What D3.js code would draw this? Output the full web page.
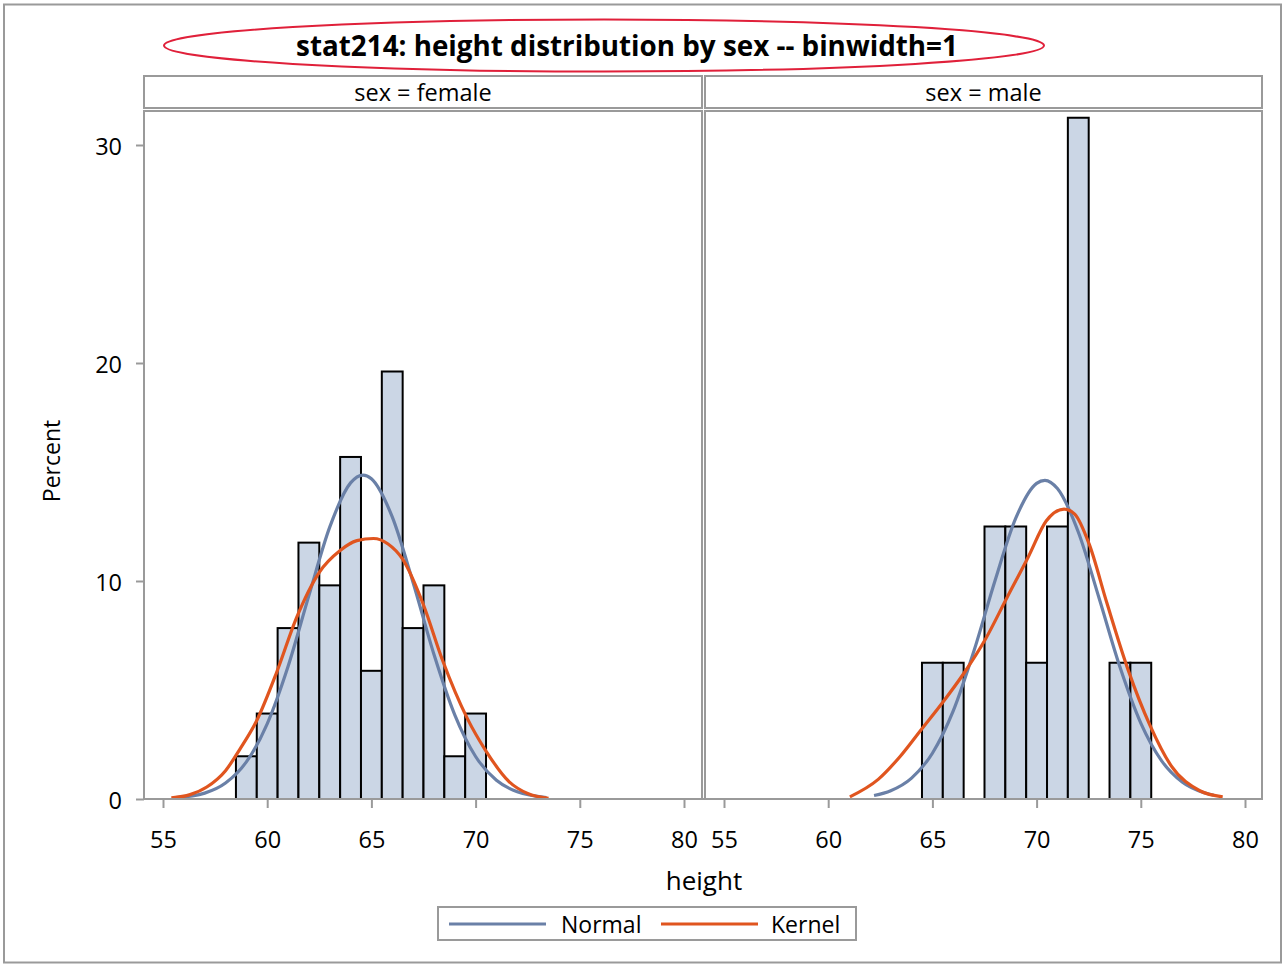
<!DOCTYPE html>
<html><head><meta charset="utf-8">
<script src="https://cdn.jsdelivr.net/npm/d3@7"></script>
<style>body{margin:0;background:#fff}svg{display:block}text{font-family:"Open Sans",sans-serif;fill:#000}</style>
</head><body>
<script>
// ---- data ----
const panels = ["sex = female", "sex = male"];
const femaleBins = [59,60,61,62,63,64,65,66,67,68,69,70];
const femalePct  = [1.96,3.92,7.84,11.76,9.80,15.69,5.88,19.61,7.84,9.80,1.96,3.92];
const maleBins   = [65,66,68,69,70,71,72,74,75];
const malePct    = [6.25,6.25,12.5,12.5,6.25,12.5,31.25,6.25,6.25];
// fitted curves (height, percent)
const femaleNormalX = [55.6,57,58,59,60,61,62,63,64,64.6,65,66,67,68,69,70,71,72,73.4];
const femaleNormalY = [0.06,0.27,0.73,1.70,3.45,6.08,9.33,12.47,14.5,14.86,14.69,12.94,9.93,6.64,3.86,1.95,0.86,0.33,0.07];
const femaleKernelX = [55.4,56.3,57.1,58.0,58.7,59.5,60.45,61.4,62.5,63.5,64.3,65.1,65.8,66.5,67.5,68.4,69.6,70.5,71.6,72.5,73.5];
const femaleKernelY = [0.05,0.2,0.55,1.3,2.3,3.6,5.8,8.3,10.4,11.4,11.85,11.95,11.7,11.0,8.9,6.4,3.7,2.2,0.8,0.25,0.03];
const maleNormalX = [62.2,63,64,65,66,67,68,69,70,70.4,71,72,73,74,75,76,77,78,78.5];
const maleNormalY = [0.16,0.38,0.96,2.10,4.04,6.81,10.0,12.88,14.48,14.62,14.24,12.25,9.21,6.05,3.48,1.75,0.77,0.30,0.17];
const maleKernelX = [61.04,62.4,63.44,64.47,65.5,66.52,67.55,68.57,69.6,70.46,71.32,71.83,72.52,73.37,74.4,75.43,76.46,77.83,78.93];
const maleKernelY = [0.1,0.9,1.94,3.19,4.44,5.78,7.34,9.22,11.1,12.75,13.3,13.07,11.7,9.0,5.9,3.4,1.52,0.38,0.1];
const xTicks = [55,60,65,70,75,80];
const yTicks = [0,10,20,30];
const legendItems = ["Normal","Kernel"];
const titleText = "stat214: height distribution by sex -- binwidth=1";

const W=1285,H=964;
const gray="#9a9a9a", barFill="#cbd6e5", blue="#6a80a7", orange="#e0551f";
const svg=d3.select("body").append("svg").attr("width",W).attr("height",H);

// outer border
svg.append("rect").attr("x",4).attr("y",4.5).attr("width",1277).attr("height",958)
  .attr("fill","none").attr("stroke",gray).attr("stroke-width",2);

// title + ellipse
svg.append("text").attr("x",627).attr("y",56).attr("text-anchor","middle")
  .attr("font-size",27.8).attr("font-weight","bold").text(titleText);
svg.append("ellipse").attr("cx",604).attr("cy",45.5).attr("rx",440).attr("ry",26)
  .attr("fill","none").attr("stroke","#e0203a").attr("stroke-width",2);

const y=d3.scaleLinear().domain([0,30]).range([799,145]);
const panelDefs=[
  {x0:144,x1:702,r:[163,684],bins:femaleBins,pct:femalePct,nx:femaleNormalX,ny:femaleNormalY,kx:femaleKernelX,ky:femaleKernelY},
  {x0:705,x1:1262,r:[724,1245],bins:maleBins,pct:malePct,nx:maleNormalX,ny:maleNormalY,kx:maleKernelX,ky:maleKernelY}
];
panelDefs.forEach((p,i)=>{
  const x=d3.scaleLinear().domain([55,80]).range(p.r);
  // header strip
  svg.append("rect").attr("x",p.x0).attr("y",76).attr("width",p.x1-p.x0).attr("height",32)
    .attr("fill","#fff").attr("stroke",gray).attr("stroke-width",2);
  svg.append("text").attr("x",(p.x0+p.x1)/2).attr("y",100.5).attr("text-anchor","middle")
    .attr("font-size",23.5).text(panels[i]);
  // bars
  const g=svg.append("g");
  g.selectAll("rect").data(p.bins).join("rect")
    .attr("x",d=>x(d-0.5)).attr("width",d=>x(d+0.5)-x(d-0.5))
    .attr("y",(d,j)=>y(p.pct[j])).attr("height",(d,j)=>y(0)-y(p.pct[j]))
    .attr("fill",barFill).attr("stroke","#000").attr("stroke-width",2);
  const line=d3.line().x(d=>x(d[0])).y(d=>y(d[1])).curve(d3.curveMonotoneX);
  svg.append("path").attr("d",line(d3.zip(p.nx,p.ny))).attr("fill","none").attr("stroke",blue).attr("stroke-width",3.2);
  svg.append("path").attr("d",line(d3.zip(p.kx,p.ky))).attr("fill","none").attr("stroke",orange).attr("stroke-width",3.2);
  // plot frame
  svg.append("rect").attr("x",p.x0).attr("y",111).attr("width",p.x1-p.x0).attr("height",799-111)
    .attr("fill","none").attr("stroke",gray).attr("stroke-width",2);
  // x axis
  const xa=svg.append("g").attr("transform","translate(0,799)")
    .call(d3.axisBottom(x).tickValues(xTicks).tickSize(9));
  xa.select(".domain").remove();
  xa.selectAll("line").attr("stroke",gray).attr("stroke-width",2);
  xa.selectAll("text").attr("y",49).attr("dy",null).attr("font-size",23.5).attr("font-family","Open Sans").attr("fill","#000");
});
// y axis
const ya=svg.append("g").attr("transform","translate(144,0)")
  .call(d3.axisLeft(y).tickValues(yTicks).tickSize(8).tickPadding(14));
ya.select(".domain").remove();
ya.selectAll("line").attr("stroke",gray).attr("stroke-width",2);
ya.selectAll("text").attr("dy","0.4em").attr("font-size",23.5).attr("font-family","Open Sans").attr("fill","#000");
svg.append("line").attr("x1",144).attr("x2",1262).attr("y1",799).attr("y2",799).attr("stroke",gray).attr("stroke-width",2);

svg.append("text").attr("transform","translate(60,461) rotate(-90)").attr("text-anchor","middle")
  .attr("font-size",23).text("Percent");
svg.append("text").attr("x",704).attr("y",890).attr("text-anchor","middle").attr("font-size",26).text("height");

// legend
svg.append("rect").attr("x",438).attr("y",907).attr("width",418).attr("height",33)
  .attr("fill","#fff").attr("stroke",gray).attr("stroke-width",2);
const lg=[{x1:449,x2:546,tx:561,c:blue},{x1:661,x2:758,tx:771,c:orange}];
lg.forEach((l,i)=>{
  svg.append("line").attr("x1",l.x1).attr("x2",l.x2).attr("y1",924).attr("y2",924).attr("stroke",l.c).attr("stroke-width",3.2);
  svg.append("text").attr("x",l.tx).attr("y",932.5).attr("font-size",23).text(legendItems[i]);
});
</script>
</body></html>
